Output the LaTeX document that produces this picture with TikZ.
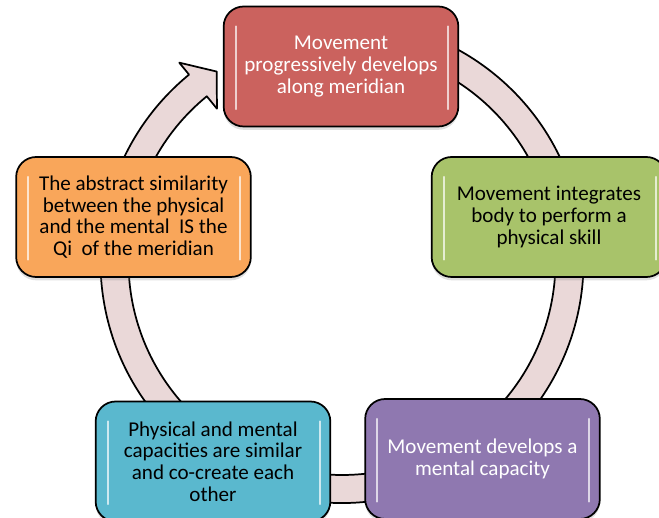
\documentclass[tikz,border=0pt]{standalone}
\usepackage{fontspec}
\setmainfont{Carlito}
\usetikzlibrary{calc,shadows}
\definecolor{brickred}{HTML}{CB625E}
\definecolor{leafgreen}{HTML}{A8C36A}
\definecolor{lavender}{HTML}{8F78B0}
\definecolor{skyblue}{HTML}{5AB8CE}
\definecolor{apricot}{HTML}{F9A65A}
\definecolor{blush}{HTML}{EAD8D8}

\begin{document}
\begin{tikzpicture}[
        x=0.75pt, y=0.75pt,
        stage/.style={rectangle, draw=black, line width=1.3pt, rounded corners=15pt,
                      minimum width=176pt, minimum height=90pt, align=center,
                      font=\fontsize{15.8}{16.3}\selectfont,
                      drop shadow={opacity=0.25, shadow xshift=0pt, shadow yshift=-2.5pt},
                      path picture={
                        \draw[white, opacity=0.7, line width=1.6pt, line cap=round]
                          ([xshift=9pt, yshift=-15pt]path picture bounding box.north west) --
                          ([xshift=9pt, yshift=13pt]path picture bounding box.south west)
                          ([xshift=-8pt, yshift=-15pt]path picture bounding box.north east) --
                          ([xshift=-8pt, yshift=13pt]path picture bounding box.south east);}},
        ring/.style={draw=black, line width=1.3pt, fill=blush, line join=round}
    ]
    \useasboundingbox (0,0) rectangle (659,517);

    % Cycle arrow behind the boxes
    \coordinate (hub) at (342,255.5);
    \draw[ring] ($(hub)+(100:241.5)$) arc[start angle=100, end angle=-230.7, radius=241.5]
        -- ($(hub)+(129.3:257)$) -- ($(hub)+(123.4:227.5)$) -- ($(hub)+(129.3:197.5)$)
        -- ($(hub)+(129.3:213.5)$) arc[start angle=129.3, end angle=460, radius=213.5] -- cycle;

    \node[stage, fill=brickred, text=white] (develop) at (341,450.5)
        {Movement\\progressively develops\\along meridian};
    \node[stage, fill=leafgreen] (integrate) at (549,300)
        {Movement integrates\\body to perform a\\physical skill};
    \node[stage, fill=lavender, text=white] (mental) at (482.5,58)
        {Movement develops a\\mental capacity};
    \node[stage, fill=skyblue] (cocreate) at (213,55.5)
        {Physical and mental\\capacities are similar\\and co-create each\\other};
    \node[stage, fill=apricot] (abstract) at (133.5,300)
        {The abstract similarity\\between the physical\\and the mental\ \ IS the\\Qi\ \ of the meridian};
\end{tikzpicture}
\end{document}
